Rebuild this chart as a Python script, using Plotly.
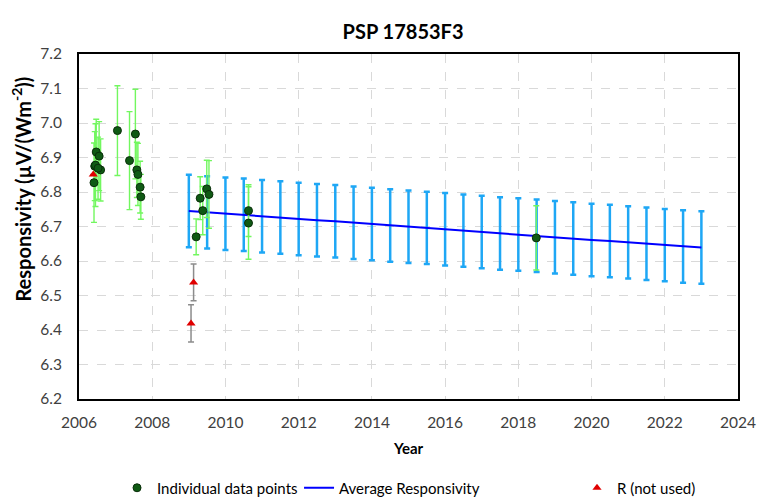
import plotly.graph_objects as go

# Individual data points (year, responsivity, uncertainty)
ind_year = [2006.41, 2006.43, 2006.47, 2006.55, 2006.59, 2006.45, 2006.52,
            2007.05, 2007.38, 2007.54, 2007.58, 2007.61, 2007.67, 2007.69,
            2009.20, 2009.31, 2009.38, 2009.49, 2009.55, 2010.63, 2010.63,
            2018.49]
ind_val = [6.827, 6.875, 6.916, 6.904, 6.864, 6.878, 6.869,
           6.978, 6.891, 6.968, 6.864, 6.851, 6.814, 6.786,
           6.670, 6.782, 6.746, 6.809, 6.793, 6.746, 6.710,
           6.667]
ind_err = [0.115, 0.10, 0.095, 0.10, 0.09, 0.12, 0.09,
           0.13, 0.142, 0.13, 0.08, 0.09, 0.075, 0.065,
           0.052, 0.062, 0.07, 0.083, 0.098, 0.075, 0.105,
           0.093]

# Average responsivity with its uncertainty
avg_year = [2009.0, 2009.5, 2010.0, 2010.5, 2011.0, 2011.5, 2012.0, 2012.5,
            2013.0, 2013.5, 2014.0, 2014.5, 2015.0, 2015.5, 2016.0, 2016.5,
            2017.0, 2017.5, 2018.0, 2018.5, 2019.0, 2019.5, 2020.0, 2020.5,
            2021.0, 2021.5, 2022.0, 2022.5, 2023.0]
avg_val = [6.745, 6.741, 6.737, 6.734, 6.730, 6.726, 6.722, 6.718,
           6.715, 6.711, 6.707, 6.703, 6.699, 6.696, 6.692, 6.688,
           6.684, 6.680, 6.677, 6.673, 6.669, 6.665, 6.661, 6.658,
           6.654, 6.650, 6.646, 6.642, 6.639]
avg_err = [0.105] * len(avg_val)

# R (not used)
r_year = [2006.39, 2009.13, 2009.06]
r_val = [6.851, 6.538, 6.419]
r_err = [None, 0.053, 0.054]

x_ticks = list(range(2006, 2025, 2))

FONT = "Lato"
LEG_FONT = dict(family=FONT, size=15, color="#000000")

fig = go.Figure()

fig.add_trace(go.Scatter(
    x=avg_year, y=avg_val, mode="lines", name="Average Responsivity",
    legend="legend2",
    line=dict(color="#0000ff", width=2),
    error_y=dict(type="data", array=avg_err, visible=True,
                 color="#1ea7f5", thickness=2.5, width=3),
))

fig.add_trace(go.Scatter(
    x=ind_year, y=ind_val, mode="markers", name="Individual data points",
    legend="legend",
    marker=dict(color="#0f5a14", size=8, line=dict(color="#0a2e0a", width=1)),
    error_y=dict(type="data", array=ind_err, visible=True,
                 color="#72f75f", thickness=1.4, width=3),
))

fig.add_trace(go.Scatter(
    x=r_year, y=r_val, mode="markers", name="R (not used)",
    legend="legend3",
    marker=dict(color="#e00000", size=8, symbol="triangle-up"),
    error_y=dict(type="data", array=r_err, visible=True,
                 color="#8c8c8c", thickness=1.5, width=3),
))

leg_common = dict(orientation="h", xanchor="left", y=-0.258, yanchor="middle",
                  font=LEG_FONT, itemwidth=30, bgcolor="rgba(0,0,0,0)")

fig.update_layout(
    width=757, height=498,
    margin=dict(l=79, r=19, t=54, b=99, autoexpand=False),
    paper_bgcolor="white", plot_bgcolor="white",
    font=dict(family=FONT, size=15.5, color="#404040"),
    title=dict(text="<b>PSP 17853F3</b>", x=0.5324, xanchor="center",
               y=0.9363, yanchor="middle",
               font=dict(family=FONT, size=20, color="#000000")),
    showlegend=True,
    legend=dict(x=0.0577, **leg_common),
    legend2=dict(x=0.3339, **leg_common),
    legend3=dict(x=0.7557, **leg_common),
    annotations=[dict(
        text="<b>Responsivity (µV/(Wm<sup>-2</sup>))</b>",
        xref="paper", yref="paper", x=-0.0880, y=0.607,
        xanchor="center", yanchor="middle", textangle=-90, showarrow=False,
        font=dict(family=FONT, size=20, color="#000000"),
    )],
)

fig.update_xaxes(
    range=[2006, 2024], tickvals=x_ticks, ticktext=[str(t) for t in x_ticks],
    showgrid=True, gridcolor="#d9d9d9", griddash="dash", gridwidth=1,
    showline=True, linecolor="#000000", linewidth=2, mirror=True,
    ticks="", zeroline=False, ticklabelstandoff=8,
    title=dict(text="<b>Year</b>", font=dict(family=FONT, size=15, color="#000000"),
               standoff=14),
)
fig.update_yaxes(
    range=[6.2, 7.2], dtick=0.1, tickformat=".1f",
    showgrid=True, gridcolor="#d9d9d9", griddash="dash", gridwidth=1,
    showline=True, linecolor="#000000", linewidth=2, mirror=True,
    ticks="", zeroline=False, ticklabelstandoff=12,
)

fig.write_html(
    "out.html",
    config={"displayModeBar": False},
    post_script="document.body.style.margin='0';document.body.style.overflow='hidden';",
)
